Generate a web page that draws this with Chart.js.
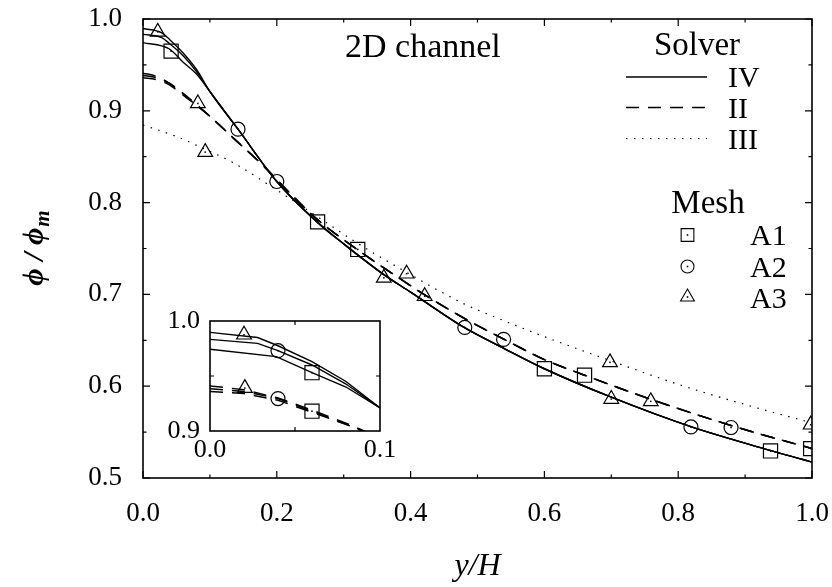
<!DOCTYPE html>
<html>
<head>
<meta charset="utf-8">
<script src="https://cdn.jsdelivr.net/npm/chart.js@4.4.1/dist/chart.umd.min.js"></script>
<style>
html, body { margin: 0; padding: 0; background: #fff; }
#wrap { position: relative; width: 832px; height: 587px; }
#grafica { position: absolute; left: 0; top: 0; }
#inset { position: absolute; left: 150px; top: 295px; }
</style>
</head>
<body>
<div id="wrap">
<canvas id="grafica" width="832" height="587" style="width:832px;height:587px"></canvas>
<canvas id="inset" width="250" height="175" style="width:250px;height:175px"></canvas>
</div>
<script>
const FONT = "'Liberation Serif', 'Times New Roman', serif";

// Solver IV (solid) - near-wall part per mesh, shared tail
const ivA1X = [0, 0.039, 0.06, 0.08, 0.1];
const ivA1Y = [0.9743, 0.9676, 0.953, 0.940, 0.921];
const ivA2X = [0, 0.028, 0.04, 0.06, 0.08, 0.1];
const ivA2Y = [0.9833, 0.9797, 0.973, 0.960, 0.9427, 0.921];
const ivA3X = [0, 0.028, 0.04, 0.06, 0.08, 0.1];
const ivA3Y = [0.9897, 0.985, 0.9775, 0.963, 0.945, 0.921];
const ivTailX = [0.142, 0.2, 0.26, 0.3, 0.36, 0.4, 0.48, 0.54, 0.6, 0.7, 0.82, 0.94, 1.0];
const ivTailY = [0.880, 0.823, 0.779, 0.755, 0.7215, 0.7025, 0.664, 0.641, 0.619, 0.588, 0.5556, 0.5295, 0.5174];

// Solver II (dashed)
const iiWallX = [0, 0.02, 0.04, 0.06, 0.08, 0.1];
const iiA1Y = [0.936, 0.934, 0.928, 0.917, 0.906, 0.894];
const iiA2Y = [0.9385, 0.936, 0.9295, 0.918, 0.906, 0.894];
const iiA3Y = [0.941, 0.9375, 0.930, 0.919, 0.907, 0.894];
const iiTailX = [0.14, 0.18, 0.22, 0.26, 0.32, 0.36, 0.42, 0.48, 0.54, 0.6, 0.66, 0.76, 0.88, 1.0];
const iiTailY = [0.867, 0.840, 0.810, 0.782, 0.749, 0.729, 0.700, 0.674, 0.651, 0.629, 0.612, 0.5855, 0.557, 0.532];

// Solver III (dotted)
const iiiX = [0, 0.05, 0.093, 0.136, 0.2, 0.26, 0.32, 0.394, 0.479, 0.534, 0.589, 0.698, 0.8, 0.9, 1.0];
const iiiY = [0.8845, 0.872, 0.858, 0.843, 0.8136, 0.785, 0.756, 0.724, 0.690, 0.673, 0.657, 0.628, 0.602, 0.580, 0.560];

// mesh markers, main plot
const a1MarkX = [0.042, 0.261, 0.321, 0.600, 0.660, 0.938, 0.998];
const a1MarkY = [0.965, 0.779, 0.749, 0.619, 0.612, 0.5295, 0.532];
const a2MarkX = [0.142, 0.2, 0.481, 0.539, 0.819, 0.879];
const a2MarkY = [0.880, 0.823, 0.664, 0.651, 0.5556, 0.555];
const a3MarkX = [0.022, 0.082, 0.093, 0.360, 0.394, 0.421, 0.698, 0.700, 0.759, 0.998];
const a3MarkY = [0.986, 0.908, 0.855, 0.718, 0.7225, 0.698, 0.626, 0.586, 0.5835, 0.558];

// mesh markers, inset
const a1InsetX = [0.060, 0.060];
const a1InsetY = [0.953, 0.918];
const a2InsetX = [0.040, 0.040];
const a2InsetY = [0.973, 0.9295];
const a3InsetX = [0.020, 0.0205];
const a3InsetY = [0.9875, 0.939];

const solverLabels = ['IV', 'II', 'III'];
const meshLabels = ['A1', 'A2', 'A3'];

const xTicks = [0, 0.2, 0.4, 0.6, 0.8, 1.0];
const xMinor = [0.1, 0.3, 0.5, 0.7, 0.9];
const yTicks = [0.5, 0.6, 0.7, 0.8, 0.9, 1.0];
const yMinor = [0.55, 0.65, 0.75, 0.85, 0.95];
const insetXTicks = [0, 0.1];
const insetYTicks = [0.9, 1.0];
const insetXMinor = [0.05];
const insetYMinor = [0.95];

const SOLID = [];
const DASH = [13, 9];
const DOT = [1.5, 6.5];
const dashes = [SOLID, DASH, DOT];
const markStyles = ['rect', 'circle', 'triangle'];

function pts(xs, ys) {
    return xs.map((x, i) => ({x: x, y: ys[i]}));
}

function lineSet(xs, ys, dash, width, smooth) {
    return {
        data: pts(xs, ys),
        showLine: true,
        borderColor: '#000',
        borderWidth: width,
        borderDash: dash,
        pointRadius: 0,
        fill: false,
        cubicInterpolationMode: smooth ? 'monotone' : 'default',
        tension: 0
    };
}

function markSet(xs, ys, style, r) {
    return {
        data: pts(xs, ys),
        showLine: false,
        pointStyle: style,
        pointRadius: r,
        pointBorderColor: '#000',
        pointBackgroundColor: 'rgba(0,0,0,0)',
        pointBorderWidth: 1.2,
        mark: true
    };
}

function curveSets(smooth) {
    return [
        lineSet(ivA1X.concat(ivTailX), ivA1Y.concat(ivTailY), SOLID, 1.4, smooth),
        lineSet(ivA2X.concat(ivTailX), ivA2Y.concat(ivTailY), SOLID, 1.4, smooth),
        lineSet(ivA3X.concat(ivTailX), ivA3Y.concat(ivTailY), SOLID, 1.4, smooth),
        lineSet(iiWallX.concat(iiTailX), iiA1Y.concat(iiTailY), DASH, 1.5, smooth),
        lineSet(iiWallX.concat(iiTailX), iiA2Y.concat(iiTailY), DASH, 1.5, smooth),
        lineSet(iiWallX.concat(iiTailX), iiA3Y.concat(iiTailY), DASH, 1.5, smooth),
        lineSet(iiiX, iiiY, DOT, 1.2, smooth)
    ];
}

function drawMark(ctx, style, x, y, r) {
    ctx.beginPath();
    if (style === 'rect') {
        const s = r * Math.SQRT1_2;
        ctx.rect(x - s, y - s, 2 * s, 2 * s);
    } else if (style === 'circle') {
        ctx.arc(x, y, r, 0, Math.PI * 2);
    } else {
        ctx.moveTo(x, y - r);
        ctx.lineTo(x + r * 0.866, y + r / 2);
        ctx.lineTo(x - r * 0.866, y + r / 2);
        ctx.closePath();
    }
    ctx.stroke();
    ctx.fillRect(x - 0.8, y - 0.8, 1.6, 1.6);
}

function boxAndTicks(chart, maj, minr, xMaj, xMin, yMaj, yMin) {
    const ctx = chart.ctx, a = chart.chartArea;
    const xs = chart.scales.x, ys = chart.scales.y;
    ctx.save();
    ctx.strokeStyle = '#000';
    ctx.lineWidth = 1.6;
    ctx.setLineDash([]);
    ctx.strokeRect(a.left, a.top, a.right - a.left, a.bottom - a.top);
    ctx.lineWidth = 1.2;
    ctx.beginPath();
    const tx = (v, len) => {
        const p = xs.getPixelForValue(v);
        ctx.moveTo(p, a.bottom); ctx.lineTo(p, a.bottom - len);
        ctx.moveTo(p, a.top); ctx.lineTo(p, a.top + len);
    };
    const ty = (v, len) => {
        const p = ys.getPixelForValue(v);
        ctx.moveTo(a.left, p); ctx.lineTo(a.left + len, p);
        ctx.moveTo(a.right, p); ctx.lineTo(a.right - len, p);
    };
    xMaj.forEach(v => tx(v, maj));
    xMin.forEach(v => tx(v, minr));
    yMaj.forEach(v => ty(v, maj));
    yMin.forEach(v => ty(v, minr));
    ctx.stroke();
    ctx.restore();
}

function markerDots(chart) {
    const ctx = chart.ctx, a = chart.chartArea;
    ctx.save();
    ctx.fillStyle = '#000';
    chart.data.datasets.forEach((ds, i) => {
        if (!ds.mark) return;
        chart.getDatasetMeta(i).data.forEach(p => {
            if (p.x < a.left || p.x > a.right || p.y < a.top || p.y > a.bottom) return;
            ctx.fillRect(p.x - 0.75, p.y - 0.75, 1.5, 1.5);
        });
    });
    ctx.restore();
}

// keep the plot frame exactly where the layout padding puts it
function noPadX(s) { s.paddingLeft = 0; s.paddingRight = 0; }
function noPadY(s) { s.paddingTop = 0; s.paddingBottom = 0; }

const mainDecor = {
    id: 'mainDecor',
    afterDatasetsDraw(chart) {
        markerDots(chart);
    },
    afterDraw(chart) {
        const ctx = chart.ctx, a = chart.chartArea;
        boxAndTicks(chart, 7, 3.5, xTicks, xMinor, yTicks, yMinor);
        ctx.save();
        ctx.fillStyle = '#000';
        ctx.strokeStyle = '#000';
        ctx.textBaseline = 'alphabetic';

        // plot title inside frame
        ctx.font = '34px ' + FONT;
        ctx.textAlign = 'left';
        ctx.fillText('2D channel', 345, 57);

        // legend: solver
        ctx.textAlign = 'center';
        ctx.font = '33px ' + FONT;
        ctx.fillText('Solver', 697, 55);
        ctx.font = '30px ' + FONT;
        ctx.textAlign = 'left';
        const lineY = [77, 107.5, 138.5];
        const textY = [87, 118, 148.5];
        solverLabels.forEach((lab, i) => {
            ctx.lineWidth = i === 2 ? 1.2 : 1.4;
            ctx.setLineDash(dashes[i]);
            ctx.beginPath();
            ctx.moveTo(626, lineY[i]);
            ctx.lineTo(707, lineY[i]);
            ctx.stroke();
            ctx.setLineDash([]);
            ctx.fillText(lab, 728, textY[i]);
        });

        // legend: mesh
        ctx.textAlign = 'center';
        ctx.font = '33px ' + FONT;
        ctx.fillText('Mesh', 708, 213);
        ctx.font = '30px ' + FONT;
        ctx.textAlign = 'left';
        const markY = [235, 266.5, 297];
        const mTextY = [245, 276.5, 308];
        const markR = [9, 6.5, 8];
        ctx.lineWidth = 1.1;
        meshLabels.forEach((lab, i) => {
            drawMark(ctx, markStyles[i], 687.5, markY[i], markR[i]);
            ctx.fillText(lab, 750, mTextY[i]);
        });

        // axis titles
        ctx.textAlign = 'center';
        ctx.font = 'italic 32px ' + FONT;
        ctx.fillText('y/H', (a.left + a.right) / 2, 575);

        ctx.translate(43, (a.top + a.bottom) / 2);
        ctx.rotate(-Math.PI / 2);
        ctx.textAlign = 'left';
        const big = 'bold italic 30px ' + FONT;
        const sub = 'bold italic 21px ' + FONT;
        ctx.font = big;
        const main = '\u03D5 / \u03D5';
        const w1 = ctx.measureText(main).width;
        ctx.font = sub;
        const w2 = ctx.measureText('m').width;
        const x0 = -(w1 + w2) / 2;
        ctx.font = big;
        ctx.fillText(main, x0, 0);
        ctx.font = sub;
        ctx.fillText('m', x0 + w1 + 1, 6);
        ctx.restore();
    }
};

const insetDecor = {
    id: 'insetDecor',
    beforeDatasetsDraw(chart) {
        const ctx = chart.ctx, a = chart.chartArea;
        ctx.save();
        ctx.fillStyle = '#fff';
        ctx.fillRect(a.left, a.top, a.right - a.left, a.bottom - a.top);
        ctx.restore();
    },
    afterDatasetsDraw(chart) {
        markerDots(chart);
    },
    afterDraw(chart) {
        boxAndTicks(chart, 4, 4, [], insetXMinor, [], insetYMinor);
    }
};

const tickFont = {family: FONT, size: 27};

const grafica = new Chart(document.getElementById('grafica'), {
    type: 'scatter',
    data: {
        datasets: curveSets(true).concat([
            markSet(a1MarkX, a1MarkY, 'rect', 10),
            markSet(a2MarkX, a2MarkY, 'circle', 7),
            markSet(a3MarkX, a3MarkY, 'triangle', 8.5)
        ])
    },
    options: {
        responsive: false,
        animation: false,
        events: [],
        layout: {padding: {left: 0, right: 20, top: 19, bottom: 0}},
        plugins: {legend: {display: false}, tooltip: {enabled: false}},
        scales: {
            x: {
                type: 'linear', min: 0, max: 1,
                grid: {display: false, drawTicks: false},
                border: {display: false},
                afterBuildTicks: s => { s.ticks = xTicks.map(v => ({value: v})); },
                afterFit: s => { s.height = 109; noPadX(s); },
                ticks: {font: tickFont, color: '#000', padding: 20, maxRotation: 0, autoSkip: false,
                        callback: v => v.toFixed(1)}
            },
            y: {
                type: 'linear', min: 0.5, max: 1.0,
                grid: {display: false, drawTicks: false},
                border: {display: false},
                afterBuildTicks: s => { s.ticks = yTicks.map(v => ({value: v})); },
                afterFit: s => { s.width = 143; noPadY(s); },
                ticks: {font: tickFont, color: '#000', padding: 21, autoSkip: false,
                        callback: v => v.toFixed(1)}
            }
        }
    },
    plugins: [mainDecor]
});

const inset = new Chart(document.getElementById('inset'), {
    type: 'scatter',
    data: {
        datasets: curveSets(false).concat([
            markSet(a1InsetX, a1InsetY, 'rect', 10),
            markSet(a2InsetX, a2InsetY, 'circle', 7),
            markSet(a3InsetX, a3InsetY, 'triangle', 8.5)
        ])
    },
    options: {
        responsive: false,
        animation: false,
        events: [],
        layout: {padding: {left: 0, right: 20, top: 26, bottom: 0}},
        plugins: {legend: {display: false}, tooltip: {enabled: false}},
        scales: {
            x: {
                type: 'linear', min: 0, max: 0.1,
                grid: {display: false, drawTicks: false},
                border: {display: false},
                afterBuildTicks: s => { s.ticks = insetXTicks.map(v => ({value: v})); },
                afterFit: s => { s.height = 39; noPadX(s); },
                ticks: {font: {family: FONT, size: 26}, color: '#000', padding: 4, maxRotation: 0, autoSkip: false,
                        callback: v => v.toFixed(1)}
            },
            y: {
                type: 'linear', min: 0.9, max: 1.0,
                grid: {display: false, drawTicks: false},
                border: {display: false},
                afterBuildTicks: s => { s.ticks = insetYTicks.map(v => ({value: v})); },
                afterFit: s => { s.width = 60; noPadY(s); },
                ticks: {font: {family: FONT, size: 26}, color: '#000', padding: 10, autoSkip: false,
                        callback: v => v.toFixed(1)}
            }
        }
    },
    plugins: [insetDecor]
});
</script>
</body>
</html>
